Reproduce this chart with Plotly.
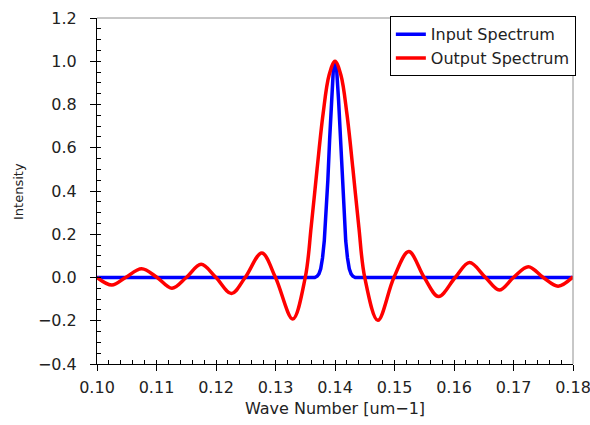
import plotly.graph_objects as go

# ---- data ----
x_ticks = [0.10, 0.11, 0.12, 0.13, 0.14, 0.15, 0.16, 0.17, 0.18]
x_tick_labels = ["0.10", "0.11", "0.12", "0.13", "0.14", "0.15", "0.16", "0.17", "0.18"]
y_ticks = [-0.4, -0.2, 0.0, 0.2, 0.4, 0.6, 0.8, 1.0, 1.2]
y_tick_labels = ["\u22120.4", "\u22120.2", "0.0", "0.2", "0.4", "0.6", "0.8", "1.0", "1.2"]

input_x = [0.1000, 0.1200, 0.1300, 0.1366, 0.1370, 0.1373, 0.1376, 0.1379, 0.1382,
           0.1385, 0.1388, 0.1391, 0.1394, 0.1397, 0.1400, 0.1403, 0.1406, 0.1409,
           0.1412, 0.1415, 0.1418, 0.1421, 0.1424, 0.1427, 0.1430, 0.1434, 0.1500,
           0.1600, 0.1800]
input_y = [0.0, 0.0, 0.0, 0.0, 0.006, 0.017, 0.04, 0.09, 0.17,
           0.29, 0.45, 0.64, 0.82, 0.95, 1.0, 0.95, 0.82, 0.64,
           0.45, 0.29, 0.17, 0.09, 0.04, 0.017, 0.006, 0.0, 0.0,
           0.0, 0.0]

output_x = [0.1000, 0.1025, 0.1048, 0.1075, 0.1101, 0.1126, 0.1150, 0.1175, 0.1200,
            0.1226, 0.1249, 0.1277, 0.1300, 0.1329, 0.1350, 0.1360, 0.1370, 0.1380,
            0.1390, 0.1400, 0.1410, 0.1420, 0.1430, 0.1440, 0.1450, 0.1472, 0.1499,
            0.1524, 0.1550, 0.1574, 0.1602, 0.1626, 0.1653, 0.1676, 0.1700, 0.1725,
            0.1750, 0.1775, 0.1800]
output_y = [0.000, -0.035, 0.000, 0.040, 0.000, -0.050, 0.000, 0.061, 0.000,
            -0.074, 0.000, 0.113, 0.000, -0.192, 0.000, 0.235, 0.505, 0.757,
            0.935, 1.000, 0.935, 0.757, 0.505, 0.235, 0.000, -0.198, 0.000,
            0.120, 0.000, -0.088, 0.000, 0.069, 0.000, -0.058, 0.000, 0.050,
            0.000, -0.040, 0.003]

FONT = "DejaVu Sans"
TXT = "#222222"

fig = go.Figure()
fig.add_trace(go.Scatter(x=input_x, y=input_y, mode="lines", name="Input Spectrum",
                         line=dict(color="#0000FF", width=3.5)))
fig.add_trace(go.Scatter(x=output_x, y=output_y, mode="lines", name="Output Spectrum",
                         line=dict(color="#FF0000", width=3.5, shape="spline", smoothing=1)))
# empty trace to activate overlay axes (inside ticks)
fig.add_trace(go.Scatter(x=[], y=[], xaxis="x2", yaxis="y2", showlegend=False,
                         hoverinfo="skip"))

fig.update_layout(
    width=590, height=425,
    margin=dict(l=97, r=17, t=18, b=61, autoexpand=False),
    paper_bgcolor="white", plot_bgcolor="white",
    font=dict(family=FONT, size=16, color=TXT),
    showlegend=True,
    legend=dict(x=1.006, xanchor="right", y=1.005, yanchor="top",
                bgcolor="white", bordercolor="black", borderwidth=1,
                font=dict(family=FONT, size=16, color=TXT),
                itemwidth=30, tracegroupgap=0),
    xaxis=dict(range=[0.10, 0.18], tickvals=x_ticks, ticktext=x_tick_labels,
               automargin=False, ticklabeloverflow="allow",
               ticks="outside", ticklen=6, tickwidth=1, tickcolor="black",
               showline=True, linecolor="black", linewidth=1,
               showgrid=False, zeroline=False,
               tickfont=dict(family=FONT, size=16, color=TXT),
               ticklabelstandoff=3,
               title=dict(text="Wave Number [um\u22121]",
                          font=dict(family=FONT, size=16, color=TXT),
                          standoff=6)),
    yaxis=dict(range=[-0.4, 1.2], tickvals=y_ticks, ticktext=y_tick_labels,
               automargin=False, ticklabeloverflow="allow",
               ticks="outside", ticklen=6, tickwidth=1, tickcolor="black",
               showline=True, linecolor="black", linewidth=1,
               showgrid=False, zeroline=False,
               tickfont=dict(family=FONT, size=16, color=TXT),
               ticklabelstandoff=10),
    xaxis2=dict(overlaying="x", range=[0.10, 0.18], anchor="y2", side="bottom",
                automargin=False,
                tickvals=x_ticks, ticks="inside", ticklen=3, tickcolor="black",
                showticklabels=False, showline=False, showgrid=False, zeroline=False,
                minor=dict(dtick=0.002, tick0=0.10, ticks="inside", ticklen=4,
                           tickcolor="black", showgrid=False)),
    yaxis2=dict(overlaying="y", range=[-0.4, 1.2], anchor="x2", side="left",
                automargin=False,
                tickvals=y_ticks, ticks="inside", ticklen=3, tickcolor="black",
                showticklabels=False, showline=False, showgrid=False, zeroline=False,
                minor=dict(dtick=0.05, tick0=0.0, ticks="inside", ticklen=4,
                           tickcolor="black", showgrid=False)),
    shapes=[
        dict(type="line", xref="paper", yref="paper", x0=0, x1=1, y0=1, y1=1,
             line=dict(color="#909090", width=1)),
        dict(type="line", xref="paper", yref="paper", x0=1, x1=1, y0=0, y1=1,
             line=dict(color="#909090", width=1)),
    ],
    annotations=[
        dict(text="Intensity", xref="paper", yref="paper", x=-0.166, y=0.5,
             xanchor="center", yanchor="middle", textangle=-90, showarrow=False,
             font=dict(family=FONT, size=13, color=TXT)),
    ],
)

fig.write_html("out.html",
               config={"displayModeBar": False},
               post_script="document.body.style.margin='0px';"
                           "document.body.style.padding='0px';"
                           "document.body.style.overflow='hidden';")
